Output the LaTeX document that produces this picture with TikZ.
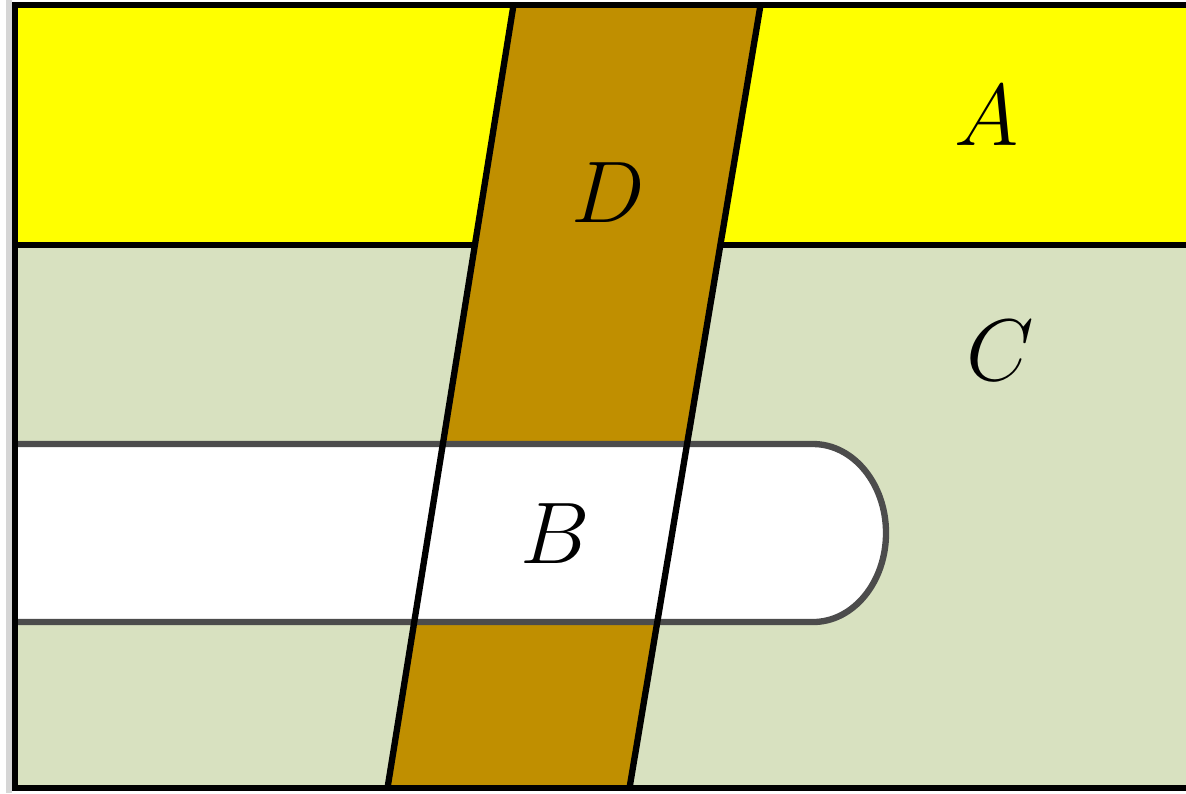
\documentclass[tikz,border=0pt]{standalone}
\definecolor{cyel}{RGB}{255,255,0}
\definecolor{cgreen}{RGB}{216,225,192}
\definecolor{cbrown}{RGB}{192,143,0}
\definecolor{cstrip}{RGB}{214,214,214}
\begin{document}
\begin{tikzpicture}[x=0.01cm,y=-0.01cm,
  edge/.style={draw=black,line width=1.8pt},
  bedge/.style={draw=black!70,line width=1.8pt},
  lbl/.style={anchor=base,inner sep=0pt,font=\fontsize{33}{40}\selectfont}]
\useasboundingbox (0,0) rectangle (1186,793);
% light strip at left
\fill[cstrip] (6,0) rectangle (12,793);
% region C
\fill[cgreen] (15,5) rectangle (1190,788);
% region A
\fill[cyel] (15,5) rectangle (1190,245);
\draw[edge] (15,245) -- (1190,245);
% band D
\coordinate (d1) at (513.5,5);
\coordinate (d2) at (760.5,5);
\coordinate (d3) at (629.5,788);
\coordinate (d4) at (387.5,788);
\fill[cbrown] (d1) -- (d2) -- (d3) -- (d4) -- cycle;
% band B
\fill[white] (15,444) -- (813,444) arc[start angle=-90,end angle=90,x radius=73,y radius=89] -- (15,622) -- cycle;
\draw[bedge] (15,444) -- (813,444) arc[start angle=-90,end angle=90,x radius=73,y radius=89] -- (15,622);
% edges of D
\draw[edge] (d1) -- (d4);
\draw[edge] (d2) -- (d3);
% outer frame
\draw[edge] (1190,5) -- (15,5) -- (15,788) -- (1190,788);
% labels
\node[lbl] (la) at (987,145) {$A$};
\node[lbl] (lb) at (555,563) {$B$};
\node[lbl] (lc) at (1000,380) {$C$};
\node[lbl] (ld) at (608,222) {$D$};
\end{tikzpicture}
\end{document}
